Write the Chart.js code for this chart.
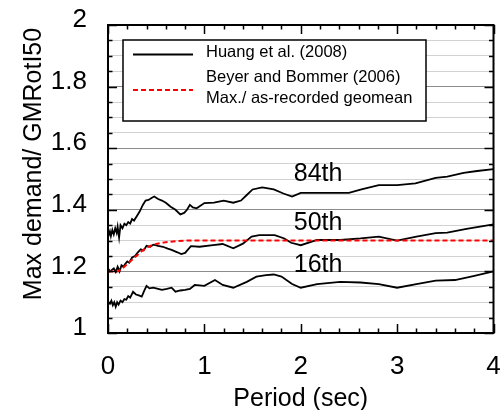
<!DOCTYPE html>
<html>
<head>
<meta charset="utf-8">
<script src="https://cdn.jsdelivr.net/npm/chart.js@4.4.1/dist/chart.umd.min.js"></script>
<style>
html,body{margin:0;padding:0;background:#fff;}
#wrap{width:503px;height:410px;}
</style>
</head>
<body>
<div id="wrap"><canvas id="c" width="503" height="410"></canvas></div>
<script>
// ---- data ----
const p84 = [0,0.02,0.03,0.045,0.06,0.075,0.09,0.1,0.115,0.13,0.15,0.17,0.19,0.21,0.23,0.25,0.27,0.3,0.33,0.36,0.39,0.42,0.46,0.48,0.52,0.56,0.6,0.65,0.7,0.75,0.79,0.82,0.85,0.88,0.92,1.0,1.1,1.2,1.3,1.38,1.44,1.5,1.6,1.72,1.82,1.91,2.0,2.5,2.63,2.81,3.0,3.19,3.4,3.52,3.69,3.83,4.0];
const v84 = [1.31,1.33,1.315,1.335,1.32,1.34,1.325,1.345,1.31,1.35,1.34,1.355,1.35,1.36,1.355,1.37,1.365,1.38,1.395,1.415,1.43,1.432,1.44,1.443,1.435,1.43,1.423,1.41,1.40,1.385,1.39,1.40,1.416,1.408,1.405,1.422,1.423,1.43,1.423,1.43,1.448,1.466,1.473,1.466,1.453,1.443,1.455,1.455,1.466,1.48,1.48,1.486,1.504,1.508,1.52,1.526,1.532];

const p50 = [0,0.02,0.04,0.06,0.08,0.1,0.12,0.14,0.16,0.18,0.2,0.22,0.25,0.28,0.31,0.34,0.37,0.4,0.44,0.47,0.52,0.57,0.62,0.66,0.72,0.76,0.8,0.86,0.95,1.09,1.19,1.3,1.4,1.49,1.57,1.73,1.83,1.9,2.0,2.17,2.41,2.62,2.81,3.0,3.2,3.4,3.52,3.72,4.0];
const v50 = [1.21,1.2,1.205,1.21,1.198,1.215,1.2,1.22,1.215,1.225,1.232,1.228,1.245,1.25,1.262,1.272,1.268,1.283,1.28,1.287,1.283,1.28,1.274,1.27,1.262,1.256,1.26,1.282,1.28,1.285,1.289,1.275,1.29,1.313,1.318,1.318,1.307,1.293,1.285,1.302,1.302,1.307,1.313,1.30,1.313,1.324,1.326,1.338,1.353];

const p16 = [0,0.02,0.035,0.05,0.065,0.08,0.095,0.11,0.13,0.15,0.17,0.19,0.21,0.23,0.26,0.29,0.32,0.35,0.38,0.4,0.43,0.47,0.52,0.56,0.61,0.66,0.7,0.75,0.8,0.85,0.9,1.0,1.11,1.19,1.3,1.44,1.54,1.64,1.72,1.8,1.91,2.0,2.17,2.41,2.62,2.81,3.0,3.2,3.4,3.6,3.79,4.0];
const v16 = [1.10,1.095,1.105,1.09,1.1,1.085,1.1,1.092,1.105,1.1,1.11,1.108,1.12,1.115,1.134,1.125,1.122,1.118,1.14,1.153,1.145,1.147,1.143,1.14,1.143,1.147,1.134,1.138,1.14,1.143,1.156,1.153,1.172,1.156,1.147,1.166,1.183,1.188,1.19,1.183,1.159,1.147,1.159,1.166,1.164,1.159,1.147,1.159,1.17,1.172,1.185,1.20];

const pBB = [0,0.1,0.15,0.2,0.25,0.3,0.35,0.4,0.45,0.5,0.6,0.7,0.8,4.0];
const vBB = [1.2,1.2,1.21,1.224,1.238,1.252,1.266,1.277,1.284,1.289,1.295,1.298,1.3,1.3];

const legendLabels = [["Huang et al. (2008)"], ["Beyer and Bommer (2006)", "Max./ as-recorded geomean"]];
const pctLabels = ["84th", "50th", "16th"];
const pctLabelX = [2.18, 2.18, 2.18];
const pctLabelY = [1.515, 1.358, 1.221];
const xTitle = "Period (sec)";
const yTitle = "Max demand/ GMRotI50";

const pts = (xs, ys) => xs.map((x, i) => ({x: x, y: ys[i]}));
const isMajorY = v => Math.abs(v * 5 - Math.round(v * 5)) < 1e-6;
const FONT = "'Liberation Sans', Arial, sans-serif";

const frame = {
  id: 'frame',
  afterDraw(chart) {
    const ctx = chart.ctx, a = chart.chartArea;
    const xs = chart.scales.x, ys = chart.scales.y;
    ctx.save();
    ctx.strokeStyle = '#000';
    ctx.lineWidth = 1.5;
    ctx.beginPath();
    for (let k = 0; k <= 20; k++) {
      const v = k * 0.2;
      const px = Math.round(xs.getPixelForValue(v)) + 0.5;
      const len = (k % 5 === 0) ? 9 : 4.5;
      ctx.moveTo(px, a.bottom); ctx.lineTo(px, a.bottom - len);
      ctx.moveTo(px, a.top); ctx.lineTo(px, a.top + len);
    }
    ys.ticks.forEach(t => {
      const py = Math.round(ys.getPixelForValue(t.value)) + 0.5;
      const len = isMajorY(t.value) ? 9 : 4.5;
      ctx.moveTo(a.left, py); ctx.lineTo(a.left + len, py);
      ctx.moveTo(a.right, py); ctx.lineTo(a.right - len, py);
    });
    ctx.stroke();
    ctx.lineWidth = 2;
    ctx.strokeRect(a.left, a.top, a.right - a.left, a.bottom - a.top);

    ctx.fillStyle = '#000';
    ctx.font = "25px " + FONT;
    ctx.textAlign = 'center';
    ctx.textBaseline = 'middle';
    pctLabels.forEach((s, i) => {
      ctx.fillText(s, xs.getPixelForValue(pctLabelX[i]), ys.getPixelForValue(pctLabelY[i]));
    });

    // y axis title
    ctx.save();
    ctx.translate(34, 164);
    ctx.rotate(-Math.PI / 2);
    ctx.fillText(yTitle, 0, 0);
    ctx.restore();

    // legend
    const bx = 123, by = 40, bw = 303, bh = 81;
    ctx.fillStyle = '#fff';
    ctx.fillRect(bx, by, bw, bh);
    ctx.lineWidth = 1.5;
    ctx.strokeStyle = '#000';
    ctx.strokeRect(bx, by, bw, bh);
    const ds = chart.data.datasets;
    const entries = [
      {ds: ds[1], lines: legendLabels[0], ys: [52], ly: 54.5},
      {ds: ds[0], lines: legendLabels[1], ys: [77, 98], ly: 90}
    ];
    ctx.textAlign = 'left';
    ctx.font = "16.5px " + FONT;
    entries.forEach(e => {
      ctx.save();
      ctx.strokeStyle = e.ds.borderColor;
      ctx.lineWidth = e.ds.borderWidth;
      ctx.setLineDash(e.ds.borderDash || []);
      ctx.beginPath();
      ctx.moveTo(133, e.ly); ctx.lineTo(193, e.ly);
      ctx.stroke();
      ctx.restore();
      ctx.fillStyle = '#000';
      e.lines.forEach((s, j) => ctx.fillText(s, 206, e.ys[j]));
    });
    ctx.restore();
  }
};

new Chart(document.getElementById('c'), {
  type: 'line',
  data: {
    datasets: [
      {label: legendLabels[1].join(' '), data: pts(pBB, vBB), borderColor: '#ff0000', borderWidth: 2, borderDash: [5, 3], order: 0},
      {label: legendLabels[0][0], data: pts(p84, v84), borderColor: '#000', borderWidth: 1.8, order: 1},
      {label: '50th', data: pts(p50, v50), borderColor: '#000', borderWidth: 1.8, order: 1},
      {label: '16th', data: pts(p16, v16), borderColor: '#000', borderWidth: 1.8, order: 1}
    ]
  },
  options: {
    responsive: false,
    devicePixelRatio: 1,
    animation: false,
    elements: {point: {radius: 0}, line: {tension: 0, fill: false}},
    layout: {padding: {left: 0, right: 9.5, top: 25, bottom: 0}},
    plugins: {legend: {display: false}, tooltip: {enabled: false}},
    scales: {
      x: {
        type: 'linear', min: 0, max: 4,
        grid: {display: false, drawTicks: false},
        border: {display: false},
        ticks: {stepSize: 1, autoSkip: false, padding: 2, color: '#000', font: {family: FONT, size: 26, lineHeight: 2.45}, maxRotation: 0},
        title: {display: true, text: xTitle, color: '#000', font: {family: FONT, size: 25, lineHeight: 1}, padding: {top: 0, bottom: -1.5}},
        afterFit(s) { s.height = 77; s.paddingLeft = 0; s.paddingRight = 0; }
      },
      y: {
        type: 'linear', min: 1, max: 2,
        grid: {drawTicks: false, lineWidth: 1, color: c => (c.tick && isMajorY(c.tick.value)) ? '#8c8c8c' : '#d2d2d2'},
        border: {display: false},
        ticks: {stepSize: 0.05, autoSkip: false, padding: 21, labelOffset: -5, color: '#000', font: {family: FONT, size: 26},
          callback: v => isMajorY(v) ? String(+v.toFixed(1)) : ''},
        title: {display: false, text: yTitle},
        afterFit(s) { s.width = 108; s.paddingTop = 0; s.paddingBottom = 0; }
      }
    }
  },
  plugins: [frame]
});
</script>
</body>
</html>
